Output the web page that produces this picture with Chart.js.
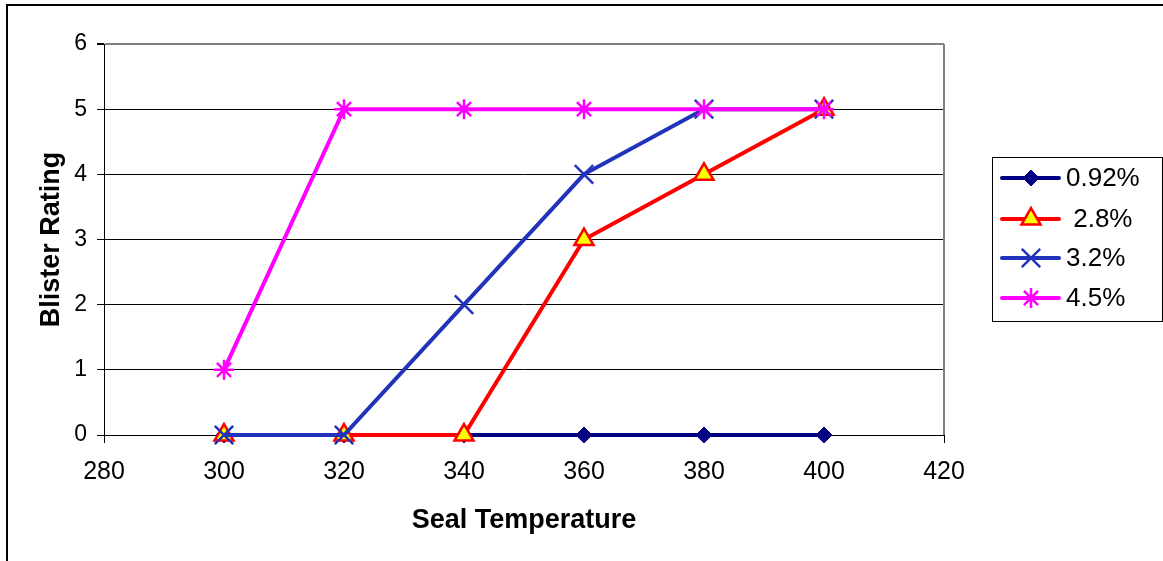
<!DOCTYPE html>
<html>
<head>
<meta charset="utf-8">
<script src="https://cdn.jsdelivr.net/npm/chart.js@4/dist/chart.umd.min.js"></script>
<style>
html,body{margin:0;padding:0;background:#fff;}
canvas{display:block;}
</style>
</head>
<body>
<canvas id="c" width="1163" height="561"></canvas>
<script>
// ---- data ----
const temperatures = [300, 320, 340, 360, 380, 400];
const series092 = [0, 0, 0, 0, 0, 0];
const series28  = [0, 0, 0, 3, 4, 5];
const series32  = [0, 0, 2, 4, 5, 5];
const series45  = [1, 5, 5, 5, 5, 5];
const seriesNames = ['0.92%', ' 2.8%', '3.2%', '4.5%'];
const xTitle = 'Seal Temperature';
const yTitle = 'Blister Rating';

const FONT = '"Liberation Sans", Arial, sans-serif';
const pts = arr => arr.map((v, i) => ({x: temperatures[i], y: v}));

const datasets = [
  {label: seriesNames[0], data: pts(series092), borderColor: '#000080', backgroundColor: '#000080',
   pointStyle: 'rectRot', pointRadius: 8, pointBorderWidth: 1, order: 3},
  {label: seriesNames[1], data: pts(series28), borderColor: '#FF0000', backgroundColor: '#FFFF00',
   pointStyle: 'triangle', pointRadius: 11, pointBorderWidth: 2.5, order: 2},
  {label: seriesNames[2], data: pts(series32), borderColor: '#2233BB', backgroundColor: '#2233BB',
   pointStyle: 'crossRot', pointRadius: 13, pointBorderWidth: 2.5, order: 1},
  {label: seriesNames[3], data: pts(series45), borderColor: '#FF00FF', backgroundColor: '#FF00FF',
   pointStyle: 'star', pointRadius: 10, pointBorderWidth: 2.5, order: 0}
];
datasets.forEach(d => { d.borderWidth = 4; d.tension = 0; d.fill = false; d.clip = false; d.pointHoverRadius = d.pointRadius; });

const framePlugin = {
  id: 'frame',
  beforeDraw(chart) {
    const ctx = chart.ctx;
    ctx.save();
    ctx.fillStyle = '#fff';
    ctx.fillRect(0, 0, chart.width, chart.height);
    ctx.strokeStyle = '#000';
    ctx.lineWidth = 2;
    ctx.beginPath();
    ctx.moveTo(7, 561); ctx.lineTo(7, 5); ctx.lineTo(1163, 5);
    ctx.stroke();
    ctx.restore();
  },
  afterDraw(chart) {
    const ctx = chart.ctx;
    const a = chart.chartArea;
    ctx.save();
    // right plot border
    ctx.strokeStyle = '#808080';
    ctx.lineWidth = 2;
    ctx.beginPath();
    ctx.moveTo(a.right, a.top); ctx.lineTo(a.right, a.bottom);
    ctx.stroke();
    // legend
    const bx = 992.5, by = 157.5, bw = 170, bh = 164;
    ctx.strokeStyle = '#000';
    ctx.lineWidth = 1;
    ctx.strokeRect(bx, by, bw, bh);
    const rows = [178, 219, 258, 298];
    chart.data.datasets.forEach((d, i) => {
      const y = rows[i];
      ctx.strokeStyle = d.borderColor;
      ctx.lineWidth = 4;
      ctx.lineCap = 'round';
      ctx.beginPath();
      ctx.moveTo(1002, y); ctx.lineTo(1059, y);
      ctx.stroke();
      ctx.lineCap = 'butt';
      ctx.fillStyle = d.backgroundColor;
      ctx.strokeStyle = d.borderColor;
      ctx.lineWidth = d.pointBorderWidth;
      ctx.beginPath();
      Chart.helpers.drawPoint(ctx, {
        pointStyle: d.pointStyle, radius: d.pointRadius, rotation: 0,
        borderWidth: d.pointBorderWidth
      }, 1031, y);
      ctx.fillStyle = '#000';
      ctx.font = '26px ' + FONT;
      ctx.textBaseline = 'middle';
      ctx.textAlign = 'left';
      ctx.fillText(d.label, 1066, y + 1);
    });
    ctx.restore();
  }
};

new Chart(document.getElementById('c'), {
  type: 'line',
  data: {datasets},
  options: {
    responsive: false,
    animation: false,
    devicePixelRatio: 1,
    layout: {padding: {top: 44, right: 219, bottom: 0, left: 0}},
    plugins: {legend: {display: false}, tooltip: {enabled: false}},
    scales: {
      x: {
        type: 'linear', min: 280, max: 420,
        afterFit: s => { s.height = 126; },
        ticks: {stepSize: 20, color: '#000', font: {family: FONT, size: 25}, padding: 14, maxRotation: 0},
        grid: {drawOnChartArea: false, color: '#000', tickLength: 8, tickColor: '#000'},
        border: {color: '#000', width: 1},
        title: {display: true, text: xTitle, color: '#000', font: {family: FONT, size: 27, weight: 'bold', lineHeight: 1.2}, padding: {top: 0, bottom: 24}}
      },
      y: {
        min: 0, max: 6,
        afterFit: s => { s.width = 104; },
        ticks: {stepSize: 1, color: '#000', font: {family: FONT, size: 23}, padding: 10},
        grid: {color: c => c.tick && c.tick.value === 6 ? '#808080' : '#000',
               lineWidth: c => c.tick && c.tick.value === 6 ? 2 : 1,
               tickLength: 7, tickColor: '#000'},
        border: {color: '#000', width: 1},
        title: {display: true, text: yTitle, color: '#000', font: {family: FONT, size: 27, weight: 'bold', lineHeight: 1.2}, padding: {top: 35, bottom: 0}}
      }
    }
  },
  plugins: [framePlugin]
});
</script>
</body>
</html>
